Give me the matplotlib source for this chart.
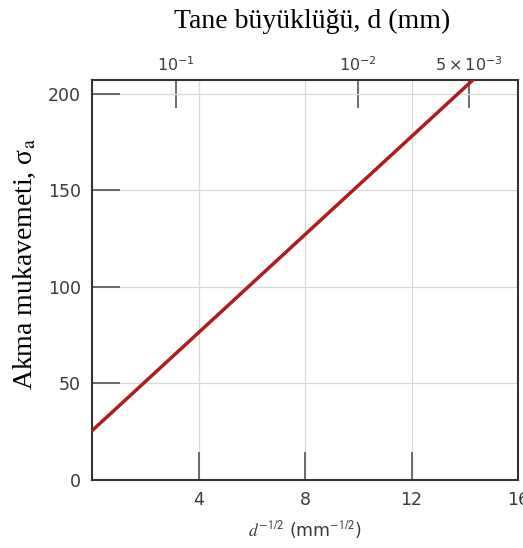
import numpy as np
import matplotlib
matplotlib.use("Agg")
import matplotlib.pyplot as plt

plt.rcParams["mathtext.fontset"] = "dejavusans"

# Data
d_inv_sqrt = [0.0, 16.0]          # d^-1/2 (mm^-1/2)
yield_strength = [25.5, 228.5]     # sigma_a
x_ticks = [4, 8, 12, 16]
y_ticks = [0, 50, 100, 150, 200]
top_d = [0.1, 0.01, 0.005]
top_labels = [r"$10^{-1}$", r"$10^{-2}$", r"$5\times10^{-3}$"]

W, H = 523, 548
fig = plt.figure(figsize=(W / 100, H / 100), dpi=100)
ax = fig.add_axes([92/W, 68/H, 426/W, 400/H])

tick_col = "#3a3a3a"
ax.plot(d_inv_sqrt, yield_strength, color="#b01c1c", lw=2.5, zorder=3)
ax.set_xlim(0, 16)
ax.set_ylim(0, 207)

ax.set_xticks(x_ticks)
ax.set_yticks(y_ticks)
ax.grid(True, color="#d8d8d8", lw=0.9, zorder=0)
ax.tick_params(direction="in", length=20, width=1.2, color="#555555",
               labelsize=12.5, labelcolor=tick_col, pad=8)
for s in ax.spines.values():
    s.set_color("#333333")
    s.set_linewidth(1.5)

xl = ax.set_xlabel(r"$d^{\mathsf{-1/2}}$ (mm$^{\mathsf{-1/2}}$)", fontsize=12.5,
                   color=tick_col, labelpad=7, family="DejaVu Sans")
xl.set_math_fontfamily("stix")

top = ax.secondary_xaxis("top")
top.set_xticks([d ** -0.5 for d in top_d])
top.set_xticklabels(top_labels)
top.tick_params(direction="in", length=20, width=1.2, color="#555555",
                labelsize=11.5, labelcolor=tick_col, pad=4)
top.spines["top"].set_visible(False)

fig.text(312/W, 1 - 21/H, "Tane büyüklüğü, d (mm)", fontsize=20,
         family="Liberation Serif", ha="center", va="center")
yl = fig.text(25/W, 1 - 264/H, r"Akma mukavemeti, σ$_{\mathrm{a}}$", fontsize=20,
              family="Liberation Serif", ha="center", va="center", rotation=90)
yl.set_math_fontfamily("stix")

fig.savefig("out.png", dpi=100)
